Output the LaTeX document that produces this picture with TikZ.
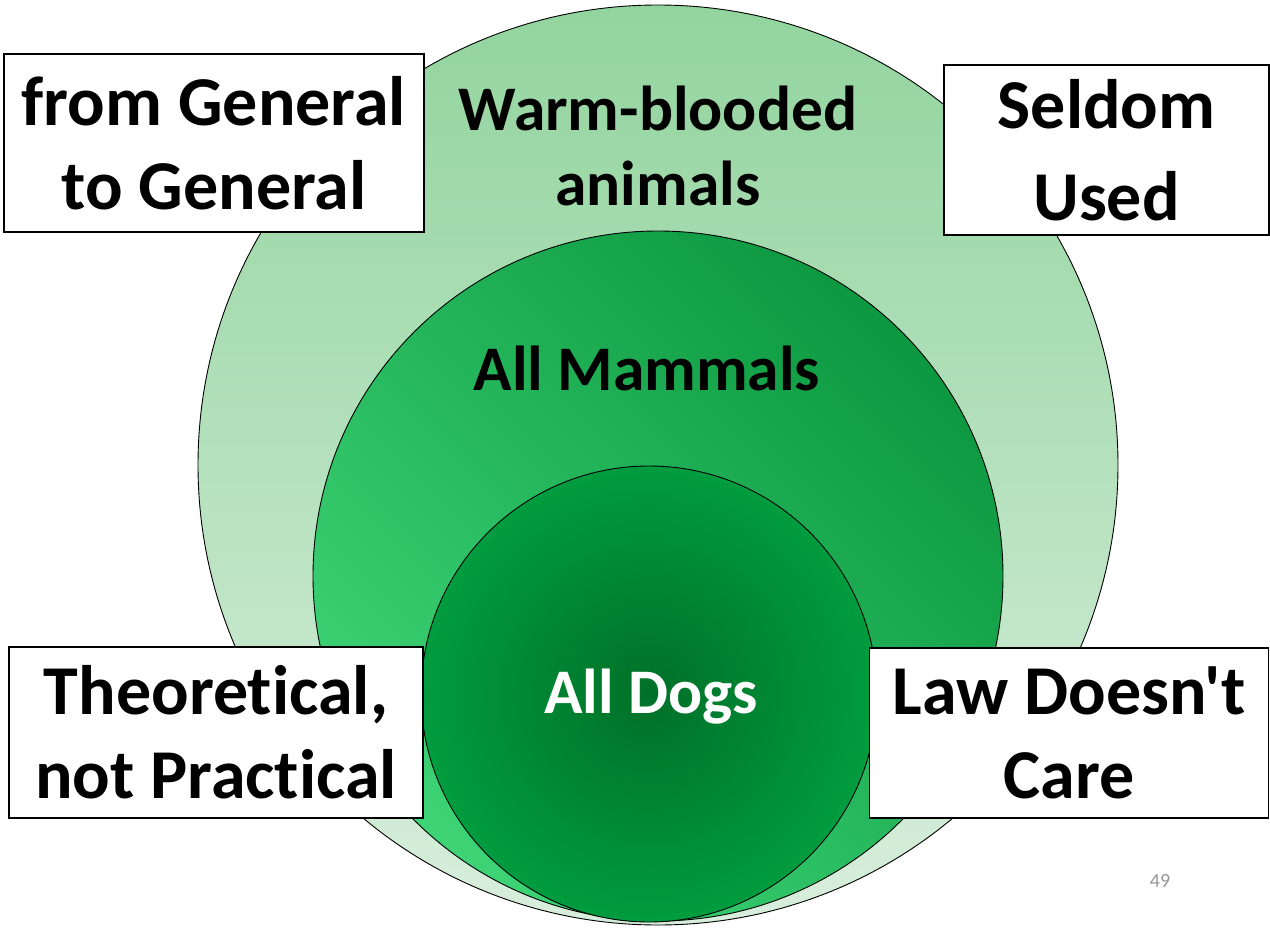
\documentclass[tikz,border=0pt]{standalone}
\usepackage{fontspec}
\setmainfont{Carlito}[Ligatures={TeXOff,CommonOff}]
\definecolor{warmtop}{RGB}{146, 212, 158}
\definecolor{warmbot}{RGB}{216, 238, 220}
\definecolor{mamdark}{RGB}{12, 152, 64}
\definecolor{mamlight}{RGB}{62, 212, 118}
\definecolor{dogcore}{RGB}{0, 112, 40}
\definecolor{dogedge}{RGB}{0, 156, 62}
\definecolor{pagegray}{RGB}{150, 150, 150}
\usetikzlibrary{positioning}

\begin{document}
\begin{tikzpicture}[x=1pt, y=-1pt,
  ring/.style={circle, draw, line width=0.9pt, inner sep=0pt},
  lbl/.style={font=\fontsize{63.5}{75}\selectfont\bfseries, align=center, inner sep=0pt},
  note/.style={draw, fill=white, line width=1.3pt, inner sep=0pt, align=center,
    font=\fontsize{70}{84}\selectfont\bfseries}
]
  \useasboundingbox (0,0) rectangle (1270,929);

  \node[ring, minimum size=920pt, top color=warmtop, bottom color=warmbot] (W) at (658, 465) {};
  \node[ring, minimum size=690pt, top color=mamdark, bottom color=mamlight, shading angle=-45] (M) at (658, 576) {};
  \node[ring, minimum size=456pt, inner color=dogcore, outer color=dogedge] (D) at (649, 694) {};

  \node[lbl, anchor=base] (Wl) at (658, 205) {Warm-blooded\\animals};
  \node[lbl, anchor=base] (Ml) at (647, 390) {All Mammals};
  \node[lbl, anchor=base, white] (Dl) at (651, 713) {All Dogs};

  \node[note, minimum width=420pt, minimum height=178pt] (gen) at (214, 143) {from General\\to General};
  \node[note, minimum width=325pt, minimum height=170pt] (sel) at (1106.5, 150) {Seldom\\[8pt]Used};
  \node[note, minimum width=414pt, minimum height=171pt] (theo) at (216, 732.5) {Theoretical,\\not Practical};
  \node[note, minimum width=399pt, minimum height=170pt] (law) at (1069, 733) {Law Doesn't\\Care};

  \node[pagegray, font=\fontsize{20}{24}\selectfont] (pg) at (1160, 881) {49};
\end{tikzpicture}
\end{document}
